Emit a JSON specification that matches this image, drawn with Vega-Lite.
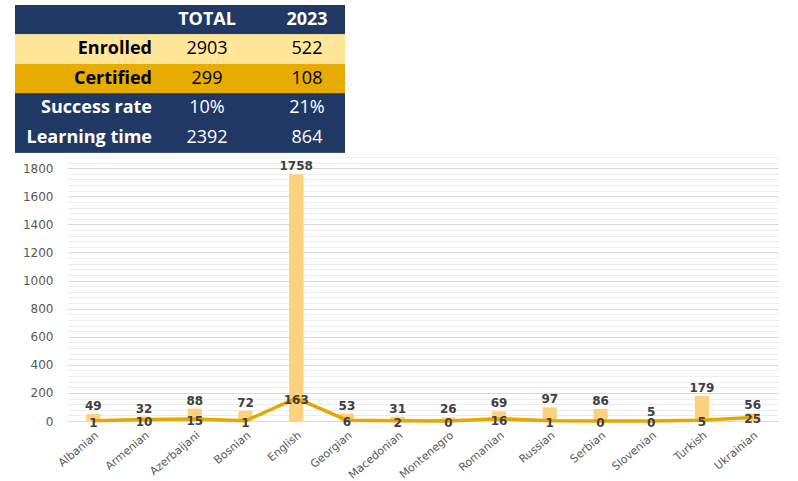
{
  "$schema": "https://vega.github.io/schema/vega-lite/v6.json",
  "padding": {"left": 15, "top": 5, "right": 5, "bottom": 0},
  "background": "white",
  "config": {"view": {"stroke": null}},
  "spacing": 4,
  "bounds": "flush",
  "vconcat": [
    {
      "width": 330,
      "height": 147.5,
      "data": {"values": [
        {"row": "header", "col": "TOTAL", "text": "TOTAL"},
        {"row": "header", "col": "2023", "text": "2023"},
        {"row": "Enrolled", "col": "label", "text": "Enrolled"},
        {"row": "Enrolled", "col": "TOTAL", "text": "2903"},
        {"row": "Enrolled", "col": "2023", "text": "522"},
        {"row": "Certified", "col": "label", "text": "Certified"},
        {"row": "Certified", "col": "TOTAL", "text": "299"},
        {"row": "Certified", "col": "2023", "text": "108"},
        {"row": "Success rate", "col": "label", "text": "Success rate"},
        {"row": "Success rate", "col": "TOTAL", "text": "10%"},
        {"row": "Success rate", "col": "2023", "text": "21%"},
        {"row": "Learning time", "col": "label", "text": "Learning time"},
        {"row": "Learning time", "col": "TOTAL", "text": "2392"},
        {"row": "Learning time", "col": "2023", "text": "864"}
      ]},
      "encoding": {
        "y": {"field": "row", "type": "nominal", "sort": ["header", "Enrolled", "Certified", "Success rate", "Learning time"], "scale": {"paddingInner": 0, "paddingOuter": 0}, "axis": null},
        "x": {"field": "col", "type": "nominal", "scale": {"domain": ["label", "TOTAL", "2023"], "paddingInner": 0, "paddingOuter": 0}, "axis": null}
      },
      "layer": [
        {
          "mark": {"type": "rect"},
          "encoding": {
            "x": null,
            "color": {"field": "row", "type": "nominal", "scale": {"domain": ["header", "Enrolled", "Certified", "Success rate", "Learning time"], "range": ["#203864", "#FFE699", "#E6AD00", "#203864", "#203864"]}, "legend": null}
          }
        },
        {
          "transform": [{"filter": "datum.col === 'label'"}],
          "mark": {"type": "text", "align": "right", "dx": 82, "baseline": "middle", "font": "Open Sans", "fontSize": 18, "fontWeight": "bold"},
          "encoding": {
            "text": {"field": "text"},
            "color": {"condition": {"test": "datum.row === 'Enrolled' || datum.row === 'Certified'", "value": "#000000"}, "value": "#FFFFFF"}
          }
        },
        {
          "transform": [{"filter": "datum.row === 'header' && datum.col === 'TOTAL'"}],
          "mark": {"type": "text", "align": "center", "dx": 27, "baseline": "middle", "font": "Open Sans", "fontSize": 18, "fontWeight": "bold", "color": "#FFFFFF"},
          "encoding": {"text": {"field": "text"}}
        },
        {
          "transform": [{"filter": "datum.row === 'header' && datum.col === '2023'"}],
          "mark": {"type": "text", "align": "center", "dx": 17, "baseline": "middle", "font": "Open Sans", "fontSize": 18, "fontWeight": "bold", "color": "#FFFFFF"},
          "encoding": {"text": {"field": "text"}}
        },
        {
          "transform": [{"filter": "datum.row !== 'header' && datum.col === 'TOTAL'"}],
          "mark": {"type": "text", "align": "center", "dx": 27, "baseline": "middle", "font": "Open Sans", "fontSize": 18},
          "encoding": {
            "text": {"field": "text"},
            "color": {"condition": {"test": "datum.row === 'Enrolled' || datum.row === 'Certified'", "value": "#000000"}, "value": "#FFFFFF"}
          }
        },
        {
          "transform": [{"filter": "datum.row !== 'header' && datum.col === '2023'"}],
          "mark": {"type": "text", "align": "center", "dx": 17, "baseline": "middle", "font": "Open Sans", "fontSize": 18},
          "encoding": {
            "text": {"field": "text"},
            "color": {"condition": {"test": "datum.row === 'Enrolled' || datum.row === 'Certified'", "value": "#000000"}, "value": "#FFFFFF"}
          }
        }
      ]
    },
    {
      "bounds": "flush",
      "spacing": 0,
      "hconcat": [
        {
          "width": 53,
          "height": 264,
          "data": {"values": []},
          "mark": {"type": "point", "opacity": 0}
        },
        {
          "width": 710,
          "height": 264,
          "data": {"values": [
            {"language": "Albanian", "enrolled": 49, "certified": 1},
            {"language": "Armenian", "enrolled": 32, "certified": 10},
            {"language": "Azerbaijani", "enrolled": 88, "certified": 15},
            {"language": "Bosnian", "enrolled": 72, "certified": 1},
            {"language": "English", "enrolled": 1758, "certified": 163},
            {"language": "Georgian", "enrolled": 53, "certified": 6},
            {"language": "Macedonian", "enrolled": 31, "certified": 2},
            {"language": "Montenegro", "enrolled": 26, "certified": 0},
            {"language": "Romanian", "enrolled": 69, "certified": 16},
            {"language": "Russian", "enrolled": 97, "certified": 1},
            {"language": "Serbian", "enrolled": 86, "certified": 0},
            {"language": "Slovenian", "enrolled": 5, "certified": 0},
            {"language": "Turkish", "enrolled": 179, "certified": 5},
            {"language": "Ukrainian", "enrolled": 56, "certified": 25}
          ]},
          "encoding": {
            "x": {"field": "language", "type": "nominal", "sort": null, "scale": {"paddingInner": 0.72, "paddingOuter": 0.36},
              "axis": {"title": null, "labelAngle": -40, "labelAlign": "right", "labelBaseline": "top", "ticks": false, "domainColor": "#D9D9D9", "labelColor": "#595959", "labelFont": "DejaVu Sans", "labelFontSize": 11, "labelPadding": 8}}
          },
          "layer": [
            {
              "mark": {"type": "bar", "color": "#FFD17F"},
              "encoding": {
                "y": {"field": "enrolled", "type": "quantitative", "title": null, "scale": {"domain": [0, 1880], "nice": false},
                  "axis": {"values": [0, 40, 80, 120, 160, 200, 240, 280, 320, 360, 400, 440, 480, 520, 560, 600, 640, 680, 720, 760, 800, 840, 880, 920, 960, 1000, 1040, 1080, 1120, 1160, 1200, 1240, 1280, 1320, 1360, 1400, 1440, 1480, 1520, 1560, 1600, 1640, 1680, 1720, 1760, 1800, 1840, 1880],
                    "tickCount": 100, "format": "d",
                    "labelExpr": "datum.value % 200 === 0 ? datum.label : ''", "labelOverlap": false, "grid": true,
                    "gridColor": {"condition": {"test": "datum.value % 200 === 0", "value": "#D9D9D9"}, "value": "#EDEDED"},
                    "ticks": false, "domain": false, "labelPadding": 15, "labelColor": "#595959", "labelFont": "DejaVu Sans", "labelFontSize": 12, "title": null}}
              }
            },
            {
              "mark": {"type": "text", "dy": -4, "baseline": "alphabetic", "font": "DejaVu Sans", "fontSize": 12, "fontWeight": "bold", "color": "#404040"},
              "encoding": {
                "y": {"field": "enrolled", "type": "quantitative", "title": null},
                "text": {"field": "enrolled"}
              }
            },
            {
              "mark": {"type": "line", "color": "#E5A800", "strokeWidth": 3.5},
              "encoding": {
                "y": {"field": "certified", "type": "quantitative", "title": null}
              }
            },
            {
              "mark": {"type": "text", "dy": 2, "baseline": "middle", "font": "DejaVu Sans", "fontSize": 12, "fontWeight": "bold", "color": "#404040"},
              "encoding": {
                "y": {"field": "certified", "type": "quantitative", "title": null},
                "text": {"field": "certified"}
              }
            }
          ]
        }
      ]
    }
  ]
}
